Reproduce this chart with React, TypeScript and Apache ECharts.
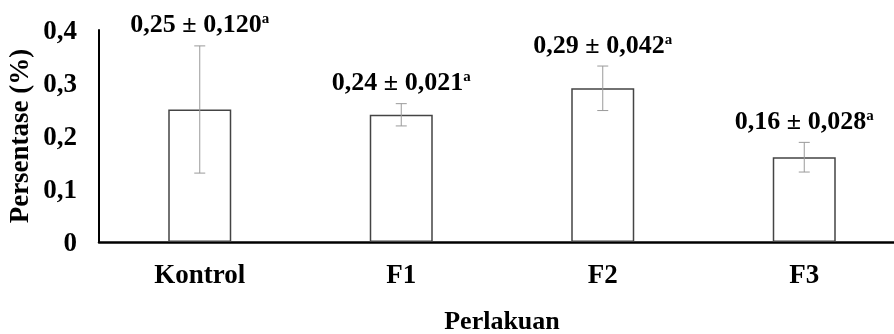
import React, { useEffect, useRef } from "react";
import * as echarts from "echarts";

const categories = ["Kontrol", "F1", "F2", "F3"];
const means = [0.25, 0.24, 0.29, 0.16];
const sds = [0.12, 0.021, 0.042, 0.028];
const letters = ["a", "a", "a", "a"];
const yTicks = [0, 0.1, 0.2, 0.3, 0.4];

const FONT = "'Liberation Serif', 'Times New Roman', serif";

const fmt = (v: number, d: number) => v.toFixed(d).replace(".", ",");

export default function App() {
  const ref = useRef<HTMLDivElement>(null);
  useEffect(() => {
    if (!ref.current) return;
    const chart = echarts.init(ref.current, undefined, { renderer: "svg" });
    chart.setOption({
      animation: false,
      grid: { left: 99, top: 30, width: 806, height: 212, containLabel: false, outerBoundsMode: "none" },
      xAxis: {
        type: "category",
        data: categories,
        name: "Perlakuan",
        nameLocation: "middle",
        nameGap: 66,
        nameTextStyle: { fontFamily: FONT, fontWeight: "bold", fontSize: 26, lineHeight: 24, color: "#000" },
        axisLine: { lineStyle: { color: "#000", width: 2.5 } },
        axisTick: { show: false },
        axisLabel: { fontFamily: FONT, fontWeight: "bold", fontSize: 27, color: "#000", margin: 18 },
      },
      yAxis: {
        type: "value",
        min: yTicks[0],
        max: yTicks[yTicks.length - 1],
        interval: 0.1,
        name: "Persentase (%)",
        nameLocation: "middle",
        nameGap: 64,
        nameTextStyle: { fontFamily: FONT, fontWeight: "bold", fontSize: 27, color: "#000" },
        axisLine: { show: true, lineStyle: { color: "#000", width: 2 } },
        axisTick: { show: false },
        splitLine: { show: false },
        axisLabel: {
          fontFamily: FONT,
          fontWeight: "bold",
          fontSize: 27,
          color: "#000",
          margin: 22,
          formatter: (v: number) => (v === 0 ? "0" : fmt(v, 1)),
        },
      },
      series: [
        {
          type: "bar",
          data: means,
          barWidth: 63,
          itemStyle: { color: "#fff", borderColor: "#444", borderWidth: 1.5 },
        },
        {
          type: "custom",
          data: means.map((m, i) => [i, m, sds[i]]),
          z: 10,
          renderItem: (params: any, api: any) => {
            const i = api.value(0);
            const m = api.value(1);
            const s = api.value(2);
            const top = api.coord([i, m + s]);
            const bot = api.coord([i, m - s]);
            const cap = 5.5;
            return {
              type: "group",
              children: [
                { type: "line", shape: { x1: top[0], y1: top[1], x2: bot[0], y2: bot[1] }, style: { stroke: "#9a9a9a", lineWidth: 1 } },
                { type: "line", shape: { x1: top[0] - cap, y1: top[1], x2: top[0] + cap, y2: top[1] }, style: { stroke: "#9a9a9a", lineWidth: 1 } },
                { type: "line", shape: { x1: bot[0] - cap, y1: bot[1], x2: bot[0] + cap, y2: bot[1] }, style: { stroke: "#9a9a9a", lineWidth: 1 } },
                {
                  type: "text",
                  x: top[0],
                  y: top[1] - 22,
                  style: {
                    text: `{v|${fmt(m, 2)} ± ${fmt(s, 3)}}{s|${letters[params.dataIndex]}}`,
                    align: "center",
                    verticalAlign: "middle",
                    rich: {
                      v: { fontFamily: FONT, fontWeight: "bold", fontSize: 26, fill: "#000", color: "#000" },
                      s: { fontFamily: FONT, fontWeight: "bold", fontSize: 15, fill: "#000", color: "#000", verticalAlign: "top", padding: [0, 0, 8, 0] },
                    },
                  },
                },
              ],
            };
          },
        },
      ],
    });
    return () => chart.dispose();
  }, []);
  return <div ref={ref} style={{ position: "fixed", left: 0, top: 0, width: 894, height: 334 }} />;
}
